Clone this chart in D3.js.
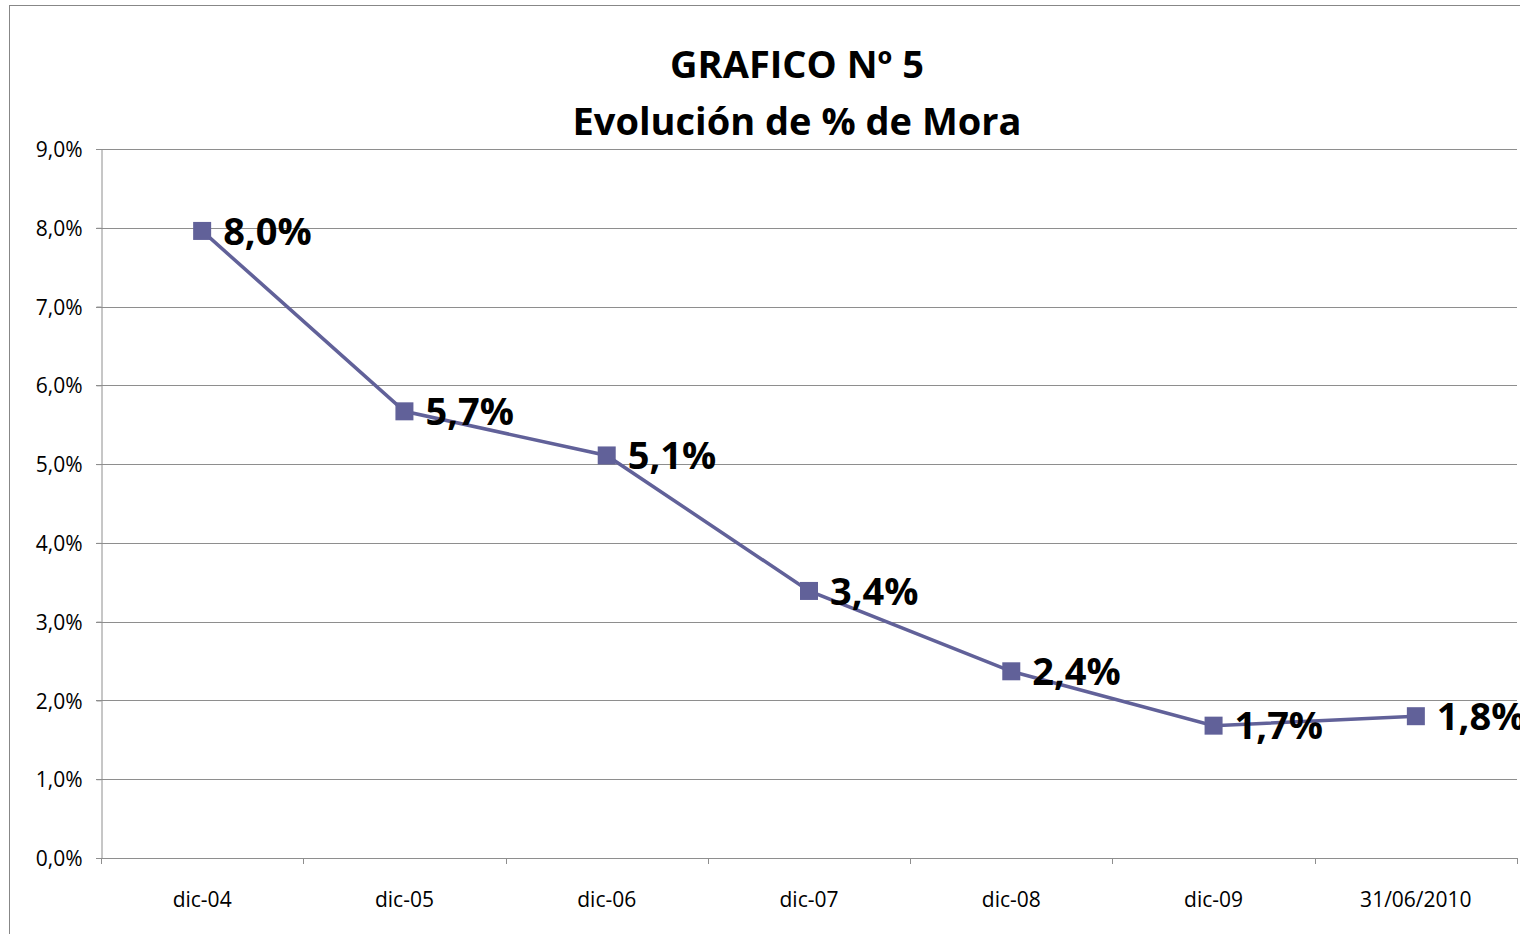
<!DOCTYPE html>
<html><head><meta charset="utf-8">
<script src="https://cdn.jsdelivr.net/npm/d3@7"></script>
<style>
html,body{margin:0;padding:0;background:#fff;overflow:hidden;}
svg{display:block;font-family:"Open Sans", "Noto Sans", sans-serif;}
</style></head>
<body><svg id="c" width="1520" height="934"></svg>
<script>
const categories = ["dic-04","dic-05","dic-06","dic-07","dic-08","dic-09","31/06/2010"];
const values = [7.96, 5.67, 5.11, 3.39, 2.37, 1.68, 1.80];
const labels = ["8,0%","5,7%","5,1%","3,4%","2,4%","1,7%","1,8%"];
const yTicks = [0,1,2,3,4,5,6,7,8,9];
const titleLines = ["GRAFICO Nº 5","Evolución de % de Mora"];

const svg = d3.select("#c");
const L = 101, R = 1517, T = 149, B = 858;
const color = "#616199";
const font = "'Open Sans', sans-serif";

svg.append("rect").attr("x",9.5).attr("y",5.5).attr("width",1530).attr("height",940)
  .attr("fill","#fff").attr("stroke","#878787").attr("stroke-width",1);

const x = d3.scaleBand().domain(categories).range([L,R]).padding(0);
const y = d3.scaleLinear().domain([0,9]).range([B,T]);

// gridlines
svg.append("g").selectAll("line").data(yTicks).join("line")
  .attr("x1",L-5).attr("x2",R).attr("y1",d=>Math.round(y(d))+0.5).attr("y2",d=>Math.round(y(d))+0.5)
  .attr("stroke","#8e8e8e").attr("stroke-width",1);

// y axis
const ya = svg.append("g").attr("transform",`translate(${L+0.5},0)`)
  .call(d3.axisLeft(y).tickValues(yTicks).tickSize(5).tickPadding(14)
    .tickFormat(d=>d3.format(".1f")(d).replace(".",",")+"%"));
ya.select(".domain").attr("stroke","#8e8e8e");
ya.selectAll(".tick line").attr("stroke","#8e8e8e");
ya.selectAll("text").attr("font-size",21).attr("fill","#000").attr("font-family",font).attr("dy","0.36em");

// x axis
const xa = svg.append("g").attr("transform",`translate(0,${Math.round(B)+0.5})`)
  .call(d3.axisBottom(x).tickSize(0).tickPadding(0));
xa.select(".domain").remove();
xa.selectAll("text").attr("font-size",21).attr("fill","#000").attr("font-family",font)
  .attr("dy",null).attr("y",48);
const bounds = categories.map(c=>x(c)).concat([R]);
svg.append("g").selectAll("line").data(bounds).join("line")
  .attr("x1",d=>Math.round(d)+0.5).attr("x2",d=>Math.round(d)+0.5)
  .attr("y1",B).attr("y2",B+6).attr("stroke","#8e8e8e");

// line
const cx = c => x(c) + x.bandwidth()/2;
const pts = categories.map((c,i)=>({c, v:values[i], l:labels[i]}));
svg.append("path").datum(pts)
  .attr("d", d3.line().x(d=>cx(d.c)).y(d=>y(d.v)))
  .attr("fill","none").attr("stroke",color).attr("stroke-width",3.5);

svg.append("g").selectAll("rect").data(pts).join("rect")
  .attr("x",d=>cx(d.c)-9).attr("y",d=>y(d.v)-9).attr("width",18).attr("height",18)
  .attr("fill",color);

svg.append("g").selectAll("text").data(pts).join("text")
  .attr("x",d=>cx(d.c)+21).attr("y",d=>y(d.v)).attr("dy","0.36em")
  .attr("font-size",38).attr("font-weight","bold").attr("fill","#000").attr("font-family",font)
  .text(d=>d.l);

// title
svg.append("g").selectAll("text").data(titleLines).join("text")
  .attr("x",797).attr("y",(d,i)=>78+i*57).attr("text-anchor","middle")
  .attr("font-size",38).attr("font-weight","bold").attr("fill","#000").attr("font-family",font)
  .text(d=>d);
</script></body></html>
